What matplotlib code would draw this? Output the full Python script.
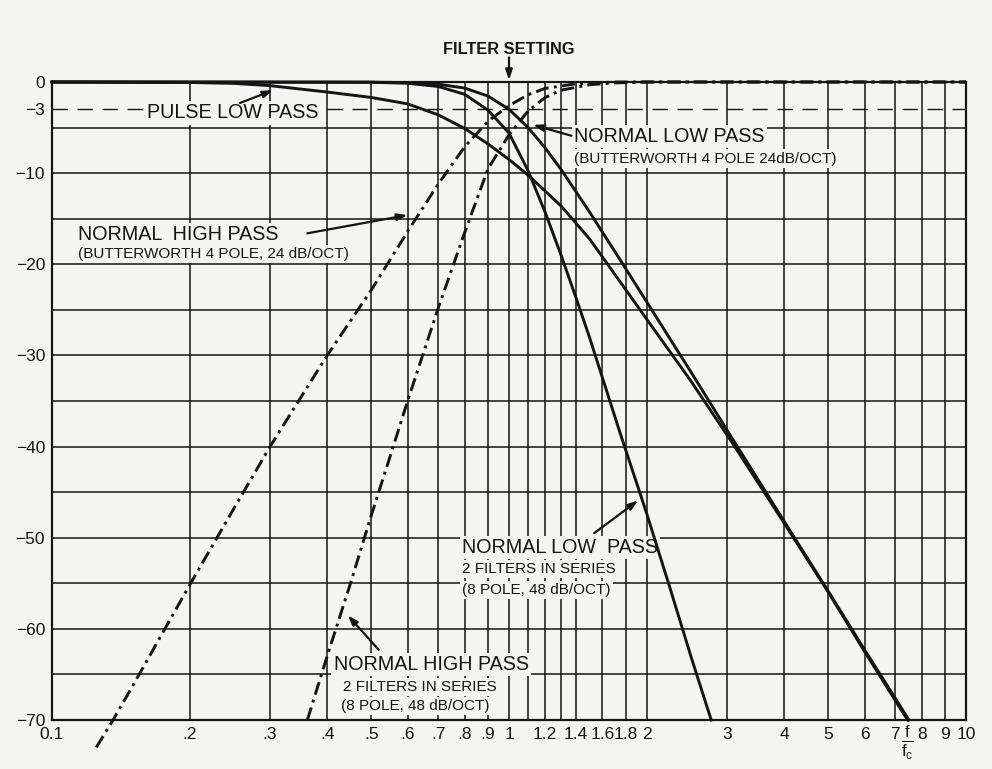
import matplotlib
matplotlib.use("Agg")
import matplotlib.pyplot as plt
from matplotlib.ticker import FixedLocator, NullLocator

# ------------------------------------------------------------
# Werte (f/fc, dB)
# ------------------------------------------------------------
lp4_f = [0.1, 0.4, 0.5, 0.6, 0.7, 0.8, 0.9, 1.0, 1.1, 1.2, 1.3, 1.5, 1.75, 2.0, 2.5, 3.0, 4.0, 5.0, 6.0, 7.0, 7.5]
lp4_db = [0, -0.01, -0.02, -0.07, -0.24, -0.67, -1.55, -3.0, -4.97, -7.24, -9.6, -14.25, -19.5, -24.1, -31.8, -38.2, -48.2, -55.9, -62.3, -67.6, -70.0]

lp8_f = [0.1, 0.5, 0.6, 0.7, 0.8, 0.9, 1.0, 1.1, 1.2, 1.3, 1.4, 1.5, 1.75, 2.0, 2.25, 2.5, 2.77]
lp8_db = [0, -0.03, -0.14, -0.49, -1.35, -3.1, -5.6, -9.7, -14.3, -19.0, -23.6, -28.0, -38.5, -47.3, -55.5, -63.0, -70.0]

pulse_f = [0.1, 0.2, 0.25, 0.3, 0.4, 0.5, 0.6, 0.7, 0.8, 0.9, 1.0, 1.1, 1.3, 1.5, 2.0, 2.5, 3.1, 4.0, 5.0, 6.0, 7.45]
pulse_db = [0, -0.05, -0.15, -0.4, -1.1, -1.7, -2.4, -3.6, -5.1, -6.8, -8.5, -10.2, -13.6, -17.2, -26.0, -32.8, -39.8, -48.4, -56.0, -62.5, -70.0]

hp4_f = [0.125, 0.136, 0.15, 0.2, 0.25, 0.3, 0.4, 0.5, 0.6, 0.7, 0.8, 0.9, 1.0, 1.1, 1.2, 1.4, 1.7, 10.0]
hp4_db = [-73.0, -70.0, -66.3, -55.2, -46.8, -40.0, -30.0, -22.8, -16.4, -11.2, -7.1, -4.3, -2.6, -1.4, -0.7, -0.2, 0, 0]

hp8_f = [0.362, 0.4, 0.45, 0.5, 0.55, 0.6, 0.7, 0.8, 0.9, 1.0, 1.1, 1.2, 1.3, 1.5, 1.7, 2.0, 10.0]
hp8_db = [-70.0, -63.0, -55.0, -47.5, -41.0, -35.0, -24.8, -16.5, -9.5, -5.8, -3.2, -1.7, -0.9, -0.3, -0.1, 0, 0]

x_grid = [0.2, 0.3, 0.4, 0.5, 0.6, 0.7, 0.8, 0.9, 1.0, 1.1, 1.2, 1.3, 1.4, 1.6, 1.8, 2, 3, 4, 5, 6, 7, 8, 9]
x_ticks = [0.1, 0.2, 0.3, 0.4, 0.5, 0.6, 0.7, 0.8, 0.9, 1, 1.2, 1.4, 1.6, 1.8, 2, 3, 4, 5, 6, 7, 8, 9, 10]
x_labels = ["0.1", ".2", ".3", ".4", ".5", ".6", ".7", ".8", ".9", "1", "1.2", "1.4", "1.6", "1.8", "2",
            "3", "4", "5", "6", "7", "8", "9", "10"]
y_grid = list(range(-65, 0, 5))
y_ticks = [0, -3, -10, -20, -30, -40, -50, -60, -70]

BG = "#f4f4f2"
INK = "#141414"
plt.rcParams["font.family"] = ["Liberation Sans", "DejaVu Sans"]
plt.rcParams["mathtext.fontset"] = "custom"
plt.rcParams["mathtext.rm"] = "Liberation Sans"
plt.rcParams["mathtext.it"] = "Liberation Sans"

fig = plt.figure(figsize=(9.92, 7.69), dpi=100, facecolor=BG)
ax = fig.add_axes([52 / 992, 1 - 720 / 769, (966 - 52) / 992, (720 - 82) / 769])
ax.set_facecolor(BG)
ax.set_xscale("log")
ax.set_xlim(0.1, 10)
ax.set_ylim(-70, 0)

# Gitter
for xv in x_grid:
    ax.axvline(xv, color=INK, lw=1.1, zorder=1)
for yv in y_grid:
    ax.axhline(yv, color=INK, lw=1.1, zorder=1)
ax.axhline(-3, color=INK, lw=1.0, dashes=(11, 7), zorder=1)

for sp in ax.spines.values():
    sp.set_linewidth(1.6)
    sp.set_color(INK)

ax.xaxis.set_major_locator(FixedLocator(x_ticks))
ax.xaxis.set_minor_locator(NullLocator())
ax.set_xticklabels(x_labels)
ax.set_yticks(y_ticks)
ax.set_yticklabels([str(v).replace("-", "\u2212") for v in y_ticks])
ax.tick_params(length=0, labelsize=12.5, colors=INK, pad=5)

# Kurven
lw = 2.1
dd = (0, (4.5, 1.8, 1.0, 1.8))
ax.plot(lp4_f, lp4_db, color=INK, lw=lw, zorder=4, clip_on=False)
ax.plot(lp8_f, lp8_db, color=INK, lw=lw, zorder=4, clip_on=False)
ax.plot(pulse_f, pulse_db, color=INK, lw=lw, zorder=4, clip_on=False)
ax.plot(hp4_f, hp4_db, color=INK, lw=lw, ls=dd, zorder=4, clip_on=False)
ax.plot(hp8_f, hp8_db, color=INK, lw=lw, ls=dd, zorder=4, clip_on=False)

# Beschriftungen
box = dict(facecolor=BG, edgecolor="none", pad=1.5)
arrow = dict(arrowstyle="-|>,head_length=0.6,head_width=0.2", color=INK, lw=1.6, shrinkA=0, shrinkB=0)
big = 14.2
small = 11


def label(f, db, txt, size, **kw):
    ax.text(f, db, txt, fontsize=size, color=INK, ha="left", va="center", bbox=box, zorder=3, **kw)


def pointer(f0, d0, f1, d1):
    ax.annotate("", xy=(f1, d1), xytext=(f0, d0), arrowprops=arrow, zorder=5, annotation_clip=False)


ax.text(1.0, 3.6, "FILTER SETTING", fontsize=11.8, fontweight="bold", color=INK,
        ha="center", va="center", clip_on=False)
pointer(1.0, 2.7, 1.0, 0.2)

label(0.1615, -3.4, "PULSE LOW PASS", big)
pointer(0.258, -2.3, 0.305, -0.9)

label(1.388, -6.0, "NORMAL LOW PASS", big)
label(1.388, -8.4, "(BUTTERWORTH 4 POLE 24dB/OCT)", small)
pointer(1.37, -5.9, 1.129, -4.7)

label(0.114, -16.7, "NORMAL  HIGH PASS", big)
label(0.114, -18.9, "(BUTTERWORTH 4 POLE, 24 dB/OCT)", small)
pointer(0.362, -16.6, 0.60, -14.6)

label(0.789, -51.1, "NORMAL LOW  PASS", big)
label(0.789, -53.4, "2 FILTERS IN SERIES", small)
label(0.789, -55.7, "(8 POLE, 48 dB/OCT)", small)
pointer(1.536, -49.5, 1.918, -45.9)

label(0.4133, -63.9, "NORMAL HIGH PASS", big)
label(0.4325, -66.4, "2 FILTERS IN SERIES", small)
label(0.428, -68.5, "(8 POLE, 48 dB/OCT)", small)
pointer(0.5187, -62.3, 0.4436, -58.5)

ax.text(7.45, -70.4, r"$\frac{f}{f_c}$", fontsize=17, color=INK, ha="center", va="top", clip_on=False)

fig.savefig("out.png", dpi=100, facecolor=BG)
